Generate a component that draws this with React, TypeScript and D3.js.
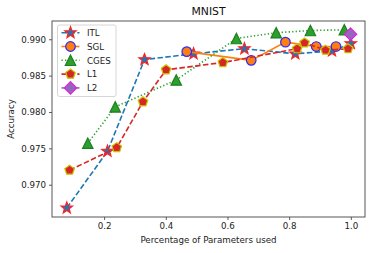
import { useEffect, useRef } from 'react';
import * as d3 from 'd3';

const W = 374, H = 253;
const M = { top: 21, right: 9, bottom: 36, left: 52 };

const ITL_X = [0.079, 0.211, 0.331, 0.490, 0.655, 0.820, 0.939, 1.0];
const ITL_Y = [0.9668, 0.9746, 0.9872, 0.9880, 0.9887, 0.9880, 0.9884, 0.9894];
const SGL_X = [0.468, 0.677, 0.788, 0.888, 0.952];
const SGL_Y = [0.9883, 0.9871, 0.9896, 0.9890, 0.9890];
const CGES_X = [0.147, 0.236, 0.434, 0.629, 0.758, 0.869, 0.979];
const CGES_Y = [0.9757, 0.9807, 0.9844, 0.9901, 0.9909, 0.9912, 0.9913];
const L1_X = [0.088, 0.241, 0.326, 0.401, 0.585, 0.826, 0.850, 0.918, 0.991];
const L1_Y = [0.9720, 0.9751, 0.9814, 0.9858, 0.9868, 0.9887, 0.9895, 0.9885, 0.9887];
const L2_X = [0.999];
const L2_Y = [0.9907];

const X_TICKS = [0.2, 0.4, 0.6, 0.8, 1.0];
const Y_TICKS = [0.970, 0.975, 0.980, 0.985, 0.990];

const SERIES = [
  { name: 'ITL', xs: ITL_X, ys: ITL_Y, line: '#1f77b4', dash: '5.5,2.4', marker: 'star', face: '#1f77b4', edge: '#ff2020', r: 6 },
  { name: 'SGL', xs: SGL_X, ys: SGL_Y, line: '#ff7f0e', dash: null, marker: 'circle', face: '#ff7f0e', edge: '#2a2aff', r: 4.8 },
  { name: 'CGES', xs: CGES_X, ys: CGES_Y, line: '#2ca02c', dash: '1.3,2.2', marker: 'triangle', face: '#2ca02c', edge: '#1f7f1f', r: 5.2 },
  { name: 'L1', xs: L1_X, ys: L1_Y, line: '#d62728', dash: '5.5,2.4', marker: 'pentagon', face: '#d62728', edge: '#c8c800', r: 5 },
  { name: 'L2', xs: L2_X, ys: L2_Y, line: '#9467bd', dash: null, marker: 'diamond', face: '#9467bd', edge: '#e020e0', r: 6.2 },
];

function poly(n, r, rot = -Math.PI / 2, inner = 0) {
  const pts = [];
  const k = inner ? n * 2 : n;
  for (let i = 0; i < k; i++) {
    const a = rot + (i * 2 * Math.PI) / k;
    const rr = inner && i % 2 ? r * inner : r;
    pts.push([Math.cos(a) * rr, Math.sin(a) * rr]);
  }
  return 'M' + pts.map(p => p[0].toFixed(2) + ',' + p[1].toFixed(2)).join('L') + 'Z';
}

function markerPath(type, r) {
  if (type === 'circle') return d3.symbol(d3.symbolCircle, Math.PI * r * r)();
  if (type === 'star') return poly(5, r, -Math.PI / 2, 0.42);
  if (type === 'pentagon') return poly(5, r);
  if (type === 'diamond') return poly(4, r);
  // triangle up, bbox-centered like matplotlib '^'
  return `M0,${-r}L${-r},${r}L${r},${r}Z`;
}

export default function App() {
  const ref = useRef(null);
  useEffect(() => {
    const svg = d3.select(ref.current); svg.selectAll('*').remove();
    const x = d3.scaleLinear().domain([0.031, 1.046]).range([M.left, W - M.right]);
    const y = d3.scaleLinear().domain([0.96556, 0.99251]).range([H - M.bottom, M.top]);
    const font = '"DejaVu Sans", sans-serif';

    svg.append('rect').attr('width', W).attr('height', H).attr('fill', '#fff');

    svg.append('g').attr('transform', `translate(0,${H - M.bottom})`)
      .call(d3.axisBottom(x).tickValues(X_TICKS).tickFormat(d3.format('.1f')).tickSize(3).tickPadding(3))
      .call(g => g.select('.domain').remove())
      .selectAll('text').attr('fill', '#222').attr('font-size', 8.7).attr('font-family', font);
    svg.append('g').attr('transform', `translate(${M.left},0)`)
      .call(d3.axisLeft(y).tickValues(Y_TICKS).tickFormat(d3.format('.3f')).tickSize(3).tickPadding(3))
      .call(g => g.select('.domain').remove())
      .selectAll('text').attr('fill', '#222').attr('font-size', 8.7).attr('font-family', font);
    svg.selectAll('.tick line').attr('stroke', '#333').attr('stroke-width', 0.8);

    const clip = svg.append('g');
    SERIES.forEach(s => {
      const pts = s.xs.map((v, i) => [x(v), y(s.ys[i])]);
      const p = clip.append('path').attr('d', d3.line()(pts)).attr('fill', 'none')
        .attr('stroke', s.line).attr('stroke-width', 1.6);
      if (s.dash) p.attr('stroke-dasharray', s.dash);
      clip.selectAll(null).data(pts).join('path')
        .attr('transform', d => `translate(${d[0]},${d[1]})`)
        .attr('d', markerPath(s.marker, s.r))
        .attr('fill', s.face).attr('stroke', s.edge).attr('stroke-width', 1.2);
    });

    svg.append('rect').attr('x', M.left).attr('y', M.top)
      .attr('width', W - M.left - M.right).attr('height', H - M.top - M.bottom)
      .attr('fill', 'none').attr('stroke', '#444').attr('stroke-width', 0.9);

    // legend
    const lg = svg.append('g').attr('transform', `translate(57.5,25)`);
    lg.append('rect').attr('width', 58.5).attr('height', 71.5).attr('rx', 2)
      .attr('fill', '#fff').attr('fill-opacity', 0.8).attr('stroke', '#ccc').attr('stroke-width', 0.8);
    SERIES.forEach((s, i) => {
      const cy = 7.7 + i * 13.8;
      const l = lg.append('line').attr('x1', 4).attr('x2', 22).attr('y1', cy).attr('y2', cy)
        .attr('stroke', s.line).attr('stroke-width', 1.6);
      if (s.dash) l.attr('stroke-dasharray', s.dash);
      lg.append('path').attr('transform', `translate(13,${cy})`).attr('d', markerPath(s.marker, s.r))
        .attr('fill', s.face).attr('stroke', s.edge).attr('stroke-width', 1.2);
      lg.append('text').attr('x', 29.5).attr('y', cy + 3.2).attr('font-size', 8.7)
        .attr('font-family', font).attr('fill', '#222').text(s.name);
    });

    svg.append('text').attr('x', (M.left + W - M.right) / 2).attr('y', 15).attr('text-anchor', 'middle')
      .attr('font-size', 10.8).attr('font-family', font).attr('fill', '#111').text('MNIST');
    svg.append('text').attr('x', (M.left + W - M.right) / 2).attr('y', 243).attr('text-anchor', 'middle')
      .attr('font-size', 8.7).attr('font-family', font).attr('fill', '#222').text('Percentage of Parameters used');
    svg.append('text').attr('transform', `translate(14,${(M.top + H - M.bottom) / 2}) rotate(-90)`)
      .attr('text-anchor', 'middle').attr('font-size', 8.7).attr('font-family', font).attr('fill', '#222').text('Accuracy');
  }, []);
  return (
    <div style={{ position: 'fixed', left: 0, top: 0 }}>
      <svg ref={ref} width={W} height={H} style={{ display: 'block' }} />
    </div>
  );
}
